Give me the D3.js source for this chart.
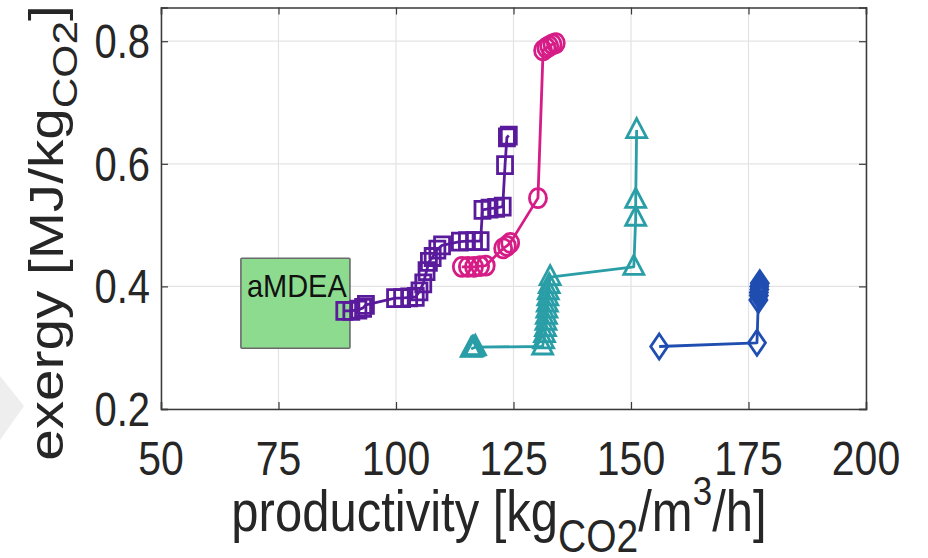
<!DOCTYPE html>
<html><head><meta charset="utf-8">
<script src="https://cdn.jsdelivr.net/npm/d3@7"></script>
<style>body{margin:0;background:#fff;} svg{display:block;font-family:"Liberation Sans",Arial,sans-serif;}</style>
</head><body>
<svg id="chart" width="928" height="558"></svg>
<script>
const xTicks = [50, 75, 100, 125, 150, 175, 200];
const yTicks = [0.2, 0.4, 0.6, 0.8];

const purpleSquares = [[89.0,0.360],[90.5,0.360],[92.0,0.362],[93.0,0.365],[93.6,0.370],[99.8,0.381],[101.3,0.381],[102.8,0.382],[104.2,0.383],[105.0,0.392],[105.8,0.405],[106.5,0.425],[107.0,0.440],[107.8,0.448],[108.8,0.460],[109.8,0.467],[113.6,0.473],[115.1,0.474],[116.6,0.474],[118.0,0.474],[118.4,0.525],[119.9,0.527],[121.3,0.528],[122.7,0.530],[123.2,0.598],[123.6,0.643],[124.0,0.646]];
const magentaCircles = [[114.0,0.432],[115.3,0.432],[116.6,0.432],[117.9,0.433],[119.1,0.434],[122.8,0.462],[123.6,0.466],[124.3,0.471],[130.2,0.544],[131.3,0.785],[132.0,0.789],[132.6,0.792],[133.3,0.795],[134.0,0.797]];
const tealTriangles = [[116.0,0.298],[116.3,0.299],[116.6,0.300],[116.9,0.301],[131.2,0.302],[131.4,0.312],[131.6,0.322],[131.8,0.332],[131.9,0.342],[132.0,0.352],[132.1,0.362],[132.2,0.372],[132.3,0.382],[132.4,0.392],[132.6,0.402],[132.8,0.415],[150.6,0.432],[151.0,0.512],[151.0,0.541],[151.2,0.655]];
const blueDiamonds = [[156.0,0.302],[176.8,0.308],[177.1,0.378],[177.2,0.385],[177.2,0.390],[177.3,0.395],[177.3,0.400],[177.4,0.405]];
const aMDEABox = {x0: 67.0, x1: 90.2, y0: 0.299, y1: 0.446, label: "aMDEA"};

const W = 928, H = 558;
const margin = {left: 161, right: 62, top: 7.5, bottom: 149};
const x = d3.scaleLinear().domain([50, 200]).range([margin.left, W - margin.right]);
const y = d3.scaleLinear().domain([0.2, 0.855]).range([H - margin.bottom, margin.top]);
const svg = d3.select("#chart");
const SY = 1.18; // vertical stretch of text

// faint artifact at left edge
svg.append("path").attr("d", "M0,376 L24,406 L0,440 Z").attr("fill", "#eeeeee");

const plot = svg.append("g");
// grid
plot.append("g").selectAll("line").data(xTicks).join("line")
  .attr("x1", d => x(d)).attr("x2", d => x(d)).attr("y1", y.range()[0]).attr("y2", y.range()[1])
  .attr("stroke", "#e3e3e3").attr("stroke-width", 1.2);
plot.append("g").selectAll("line").data(yTicks).join("line")
  .attr("y1", d => y(d)).attr("y2", d => y(d)).attr("x1", x.range()[0]).attr("x2", x.range()[1])
  .attr("stroke", "#e3e3e3").attr("stroke-width", 1.2);

// axes with inward ticks (box)
const axisColor = "#3a3a3a";
const gx = svg.append("g").attr("transform", `translate(0,${y.range()[0]})`)
  .call(d3.axisBottom(x).tickValues(xTicks).tickSize(-7).tickFormat(""));
const gxTop = svg.append("g").attr("transform", `translate(0,${y.range()[1]})`)
  .call(d3.axisTop(x).tickValues(xTicks).tickSize(-7).tickFormat(""));
const gy = svg.append("g").attr("transform", `translate(${x.range()[0]},0)`)
  .call(d3.axisLeft(y).tickValues(yTicks).tickSize(-7).tickFormat(""));
const gyR = svg.append("g").attr("transform", `translate(${x.range()[1]},0)`)
  .call(d3.axisRight(y).tickValues(yTicks).tickSize(-7).tickFormat(""));
[gx, gxTop, gy, gyR].forEach(g => {
  g.select(".domain").attr("stroke", axisColor).attr("stroke-width", 1.5);
  g.selectAll(".tick line").attr("stroke", axisColor).attr("stroke-width", 1.2);
});

// tick labels
svg.append("g").selectAll("text").data(xTicks).join("text")
  .attr("transform", d => `translate(${x(d)},475) scale(1,${SY})`)
  .attr("text-anchor", "middle").attr("font-size", 41).attr("fill", "#262626")
  .text(d3.format("d"));
svg.append("g").selectAll("text").data(yTicks).join("text")
  .attr("transform", d => `translate(150,${y(d) + 0.358 * 40 * SY}) scale(1,${SY})`)
  .attr("text-anchor", "end").attr("font-size", 40).attr("fill", "#262626")
  .text(d3.format(".1f"));

// aMDEA box
plot.append("rect")
  .attr("x", x(aMDEABox.x0)).attr("y", y(aMDEABox.y1))
  .attr("width", x(aMDEABox.x1) - x(aMDEABox.x0)).attr("height", y(aMDEABox.y0) - y(aMDEABox.y1))
  .attr("fill", "#8ddb8f").attr("stroke", "#6a6a6a").attr("stroke-width", 1.6).attr("rx", 1);
plot.append("text").attr("transform", `translate(${x(aMDEABox.x0) + 6},${y(aMDEABox.y1) + 39}) scale(1,1.1)`)
  .attr("font-size", 29).attr("fill", "#111").text(aMDEABox.label);

const lw = 2.8;
function series(data, color, shape) {
  const g = plot.append("g");
  g.append("path").datum(data)
    .attr("d", d3.line().x(d => x(d[0])).y(d => y(d[1])))
    .attr("fill", "none").attr("stroke", color).attr("stroke-width", lw).attr("stroke-linejoin", "round");
  g.selectAll("path.m").data(data).join("path").attr("class", "m")
    .attr("transform", d => `translate(${x(d[0])},${y(d[1])})`)
    .attr("fill", "none").attr("stroke", color).attr("stroke-width", lw).attr("stroke-linejoin", "miter")
    .attr("d", shape);
}
const squareP = "M-7.5,-8.5H7.5V8.5H-7.5Z";
const circleP = "M-8.5,0A8.5,9.5 0 1,0 8.5,0A8.5,9.5 0 1,0 -8.5,0Z";
const triP = "M0,-11.5L10,7.5L-10,7.5Z";
const diaP = "M0,-12.5L8.5,0L0,12.5L-8.5,0Z";

series(purpleSquares, "#5a1a9c", squareP);
series(magentaCircles, "#d61c86", circleP);
series(tealTriangles, "#2a9ea6", triP);
series(blueDiamonds, "#1f4db0", diaP);

// axis titles
const xt = svg.append("text").attr("transform", `translate(499,531) scale(1,${SY})`).attr("text-anchor", "middle")
  .attr("font-size", 49).attr("fill", "#262626");
xt.append("tspan").text("productivity [kg");
xt.append("tspan").attr("font-size", 39).attr("dy", 18).text("CO2");
xt.append("tspan").attr("dy", -18).text("/m");
xt.append("tspan").attr("font-size", 35).attr("dy", -22).text("3");
xt.append("tspan").attr("dy", 22).text("/h]");

const yt = svg.append("text").attr("transform", `translate(63,233) scale(1,${SY}) rotate(-90)`).attr("text-anchor", "middle")
  .attr("font-size", 48).attr("fill", "#262626");
yt.append("tspan").text("exergy [MJ/kg");
yt.append("tspan").attr("font-size", 36).attr("dy", 14).text("CO2");
yt.append("tspan").attr("dy", -14).text("]");
</script>
</body></html>
